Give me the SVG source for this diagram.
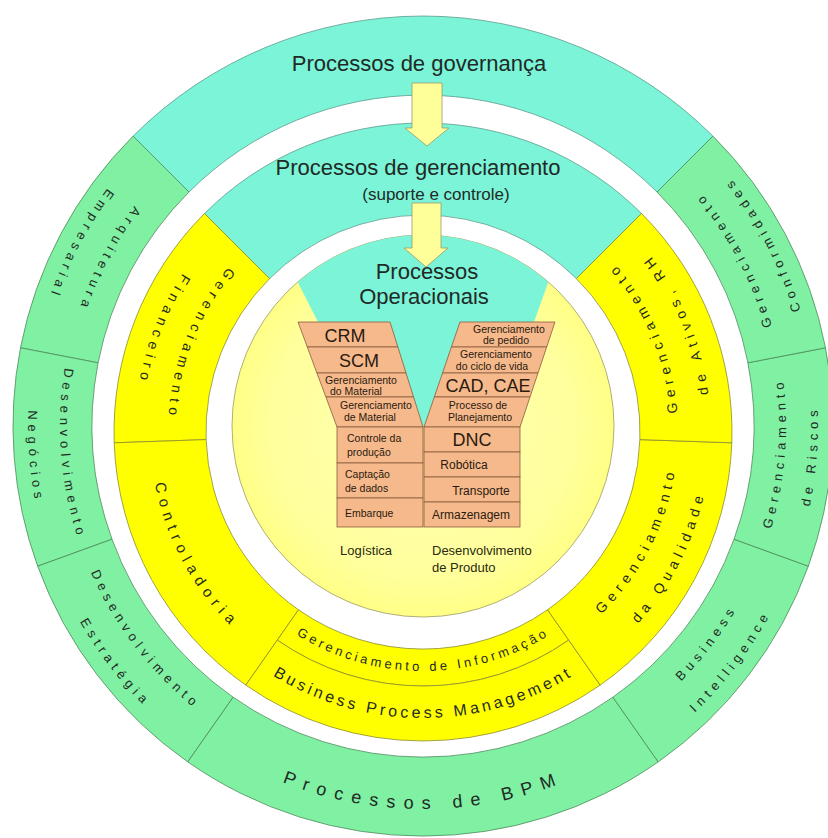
<svg xmlns="http://www.w3.org/2000/svg" width="828" height="838" viewBox="0 0 828 838">
<defs>
<style>
.teal{fill:#7CF4D8;stroke:#5a9c8c;stroke-width:0.8}
.green{fill:#80F0A2;stroke:#4c8a5c;stroke-width:0.8}
.yellow{fill:#FFFF00;stroke:#8c8c30;stroke-width:0.8}
.cell{fill:#F5B98B;stroke:#8a5c3c;stroke-width:0.8}
.arrow{fill:#FFFF99;stroke:#9a9a6a;stroke-width:0.8}
.t{font-family:"Liberation Sans",Arial,sans-serif;fill:#1f2a26}
.title{font-size:22px;text-anchor:middle}
.ro{font-size:13px;letter-spacing:5px;text-anchor:middle}
.rm{font-size:14px;letter-spacing:5.5px;text-anchor:middle}
.big{font-size:18px;text-anchor:middle;fill:#2a1a10}
.sm{font-size:10.5px;text-anchor:middle;fill:#2a1a10}
.sml{font-size:10.5px;fill:#2a1a10}
.md{font-size:12px;text-anchor:middle;fill:#2a1a10}
.lab{font-size:13px;fill:#2a2a10}
</style>
<radialGradient id="innerFill" cx="0.5" cy="0.5" r="0.5">
<stop offset="0" stop-color="#FFFFB4"/>
<stop offset="0.8" stop-color="#FFFF9C"/>
<stop offset="1" stop-color="#FFFF86"/>
</radialGradient>
<path id="o1" d="M423,63 A363,363 0 1 0 423,789 A363,363 0 1 0 423,63"/>
<path id="o2" d="M423,31 A395,395 0 1 0 423,821 A395,395 0 1 0 423,31"/>
<path id="ob" d="M423,43 A383,383 0 1 0 423,809 A383,383 0 1 0 423,43"/>
<path id="m1" d="M423,177 A255,255 0 1 0 423,687 A255,255 0 1 0 423,177"/>
<path id="m2" d="M423,144 A288,288 0 1 0 423,720 A288,288 0 1 0 423,144"/>
<path id="mc" d="M423,159 A273,273 0 1 0 423,705 A273,273 0 1 0 423,159"/>
<path id="mb" d="M423,146 A286,286 0 1 0 423,718 A286,286 0 1 0 423,146"/>
<path id="mi" d="M423,193 A239,239 0 1 0 423,671 A239,239 0 1 0 423,193"/>
</defs>
<rect width="828" height="838" fill="#FFFFFF"/>

<!-- Outer ring -->
<g id="governanca">
<path class="teal" d="M712.9,136.1 A410,410 0 0 0 133.1,136.1 L189.0,192.0 A331,331 0 0 1 657.0,192.0 Z"/>
<text class="t title" x="419" y="71">Processos de governança</text>
</g>
<g id="arquitetura">
<path class="green" d="M133.1,136.1 A410,410 0 0 0 20.5,347.8 L98.1,362.8 A331,331 0 0 1 189.0,192.0 Z"/>
<text class="t ro"><textPath href="#o1" startOffset="392.8">Arquitetura</textPath></text>
<text class="t ro"><textPath href="#o2" startOffset="427.4">Empresarial</textPath></text>
</g>
<g id="desenv-negocios">
<path class="green" d="M20.5,347.8 A410,410 0 0 0 37.7,566.2 L112.0,539.2 A331,331 0 0 1 98.1,362.8 Z"/>
<text class="t ro"><textPath href="#o1" startOffset="598.7">Desenvolvimento</textPath></text>
<text class="t ro"><textPath href="#o2" startOffset="651.5">Negócios</textPath></text>
</g>
<g id="desenv-estrategia">
<path class="green" d="M37.7,566.2 A410,410 0 0 0 187.8,761.9 L233.1,697.2 A331,331 0 0 1 112.0,539.2 Z"/>
<text class="t ro"><textPath href="#o1" startOffset="807.8">Desenvolvimento</textPath></text>
<text class="t ro"><textPath href="#o2" startOffset="879.0">Estratégia</textPath></text>
</g>
<g id="processos-bpm">
<path class="green" d="M187.8,761.9 A410,410 0 0 0 658.2,761.9 L612.9,697.2 A331,331 0 0 1 233.1,697.2 Z"/>
<text class="t" style="font-size:18px;letter-spacing:8.5px;text-anchor:middle"><textPath href="#ob" startOffset="1203.2">Processos de BPM</textPath></text>
</g>
<g id="business-intelligence">
<path class="green" d="M658.2,761.9 A410,410 0 0 0 808.3,566.2 L734.0,539.2 A331,331 0 0 1 612.9,697.2 Z"/>
<text class="t ro"><textPath href="#o1" startOffset="1473.0">Business</textPath></text>
<text class="t ro"><textPath href="#o2" startOffset="1602.9">Intelligence</textPath></text>
</g>
<g id="riscos">
<path class="green" d="M808.3,566.2 A410,410 0 0 0 825.5,347.8 L747.9,362.8 A331,331 0 0 1 734.0,539.2 Z"/>
<text class="t ro"><textPath href="#o1" startOffset="1682.1">Gerenciamento</textPath></text>
<text class="t ro"><textPath href="#o2" startOffset="1830.4">de Riscos</textPath></text>
</g>
<g id="conformidades">
<path class="green" d="M825.5,347.8 A410,410 0 0 0 712.9,136.1 L657.0,192.0 A331,331 0 0 1 747.9,362.8 Z"/>
<text class="t ro"><textPath href="#o1" startOffset="1888.0">Gerenciamento</textPath></text>
<text class="t ro"><textPath href="#o2" startOffset="2054.4">Conformidades</textPath></text>
</g>

<!-- Middle ring -->
<g id="gerenciamento">
<path class="teal" d="M641.5,213.5 A309,309 0 0 0 204.5,213.5 L269.6,278.6 A217,217 0 0 1 576.4,278.6 Z"/>
<text class="t title" x="418" y="175">Processos de gerenciamento</text>
<text class="t" x="436" y="200" style="font-size:17px;text-anchor:middle">(suporte e controle)</text>
</g>
<g id="financeiro">
<path class="yellow" d="M204.5,213.5 A309,309 0 0 0 114.2,442.8 L206.1,439.6 A217,217 0 0 1 269.6,278.6 Z"/>
<text class="t rm"><textPath href="#m1" startOffset="304.9">Gerenciamento</textPath></text>
<text class="t rm"><textPath href="#m2" startOffset="344.3">Financeiro</textPath></text>
</g>
<g id="controladoria">
<path class="yellow" d="M114.2,442.8 A309,309 0 0 0 245.8,685.1 L298.5,609.8 A217,217 0 0 1 206.1,439.6 Z"/>
<text class="t" style="font-size:15px;letter-spacing:6px;text-anchor:middle"><textPath href="#mc" startOffset="564.6">Controladoria</textPath></text>
</g>
<g id="informacao">
<path class="yellow" d="M298.5,609.8 A217,217 0 0 0 547.5,609.8 L568.7,640.1 A254,254 0 0 1 277.3,640.1 Z"/>
<text class="t" style="font-size:13px;letter-spacing:3.4px;text-anchor:middle"><textPath href="#mi" startOffset="750.8">Gerenciamento de Informação</textPath></text>
</g>
<g id="bpm">
<path class="yellow" d="M277.3,640.1 A254,254 0 0 0 568.7,640.1 L600.2,685.1 A309,309 0 0 1 245.8,685.1 Z"/>
<text class="t" style="font-size:16px;letter-spacing:3.4px;text-anchor:middle"><textPath href="#mb" startOffset="898.5">Business Process Management</textPath></text>
</g>
<g id="qualidade">
<path class="yellow" d="M600.2,685.1 A309,309 0 0 0 731.8,442.8 L639.9,439.6 A217,217 0 0 1 547.5,609.8 Z"/>
<text class="t rm"><textPath href="#m1" startOffset="1081.5">Gerenciamento</textPath></text>
<text class="t rm"><textPath href="#m2" startOffset="1221.5">da Qualidade</textPath></text>
</g>
<g id="ativos">
<path class="yellow" d="M731.8,442.8 A309,309 0 0 0 641.5,213.5 L576.4,278.6 A217,217 0 0 1 639.9,439.6 Z"/>
<text class="t rm"><textPath href="#m1" startOffset="1304.0">Gerenciamento</textPath></text>
<text class="t rm"><textPath href="#m2" startOffset="1472.8">de Ativos, RH</textPath></text>
</g>

<!-- Inner circle -->
<g id="nucleo">
<circle cx="423" cy="426" r="191" fill="url(#innerFill)" stroke="#9a9a66" stroke-width="0.8"/>
</g>
<g id="operacionais">
<path fill="#7CF4D8" d="M297.7,281.9 A191,191 0 0 1 548.3,281.9 L534,322 L515,360 L424,427 L335,360 L318,322 Z"/>
<text class="t title" x="427" y="279">Processos</text>
<text class="t title" x="424" y="304">Operacionais</text>
</g>

<!-- Left arm cells -->
<g id="crm"><polygon class="cell" points="298,322 390,322 397.9,347 307.3,347"/><text class="t big" x="345" y="342">CRM</text></g>
<g id="scm"><polygon class="cell" points="307.3,347 397.9,347 406,373 316.9,373"/><text class="t big" x="359" y="367">SCM</text></g>
<g id="ger-material-1"><polygon class="cell" points="316.9,373 406,373 413.6,397 325.9,397"/><text class="t sm" x="361" y="383.5">Gerenciamento</text><text class="t sm" x="356" y="394.5">do Material</text></g>
<g id="ger-material-2"><polygon class="cell" points="325.9,397 413.6,397 423,427 337,427"/><text class="t sm" x="376" y="409">Gerenciamento</text><text class="t sm" x="370" y="421">de Material</text></g>
<g id="controle-producao"><rect class="cell" x="337" y="427" width="86" height="36"/><text class="t sml" x="347" y="442">Controle da</text><text class="t sml" x="347" y="456">produção</text></g>
<g id="captacao-dados"><rect class="cell" x="337" y="463" width="86" height="35"/><text class="t sml" x="345" y="478">Captação</text><text class="t sml" x="345" y="492">de dados</text></g>
<g id="embarque"><rect class="cell" x="337" y="498" width="86" height="29"/><text class="t sml" x="345" y="517">Embarque</text></g>

<!-- Right arm cells -->
<g id="ger-pedido"><polygon class="cell" points="460,322 555,322 546.7,347 451.4,347"/><text class="t sm" x="509" y="333">Gerenciamento</text><text class="t sm" x="506" y="344">de pedido</text></g>
<g id="ger-ciclo"><polygon class="cell" points="451.4,347 546.7,347 538,373 442.5,373"/><text class="t sm" x="496" y="358">Gerenciamento</text><text class="t sm" x="492" y="369.5">do ciclo de vida</text></g>
<g id="cad-cae"><polygon class="cell" points="442.5,373 538,373 530,397 434.3,397"/><text class="t big" x="488" y="392">CAD, CAE</text></g>
<g id="planejamento"><polygon class="cell" points="434.3,397 530,397 520,427 424,427"/><text class="t sm" x="478" y="409">Processo de</text><text class="t sm" x="480" y="421">Planejamento</text></g>
<g id="dnc"><rect class="cell" x="424" y="427" width="96" height="25"/><text class="t big" x="472" y="446">DNC</text></g>
<g id="robotica"><rect class="cell" x="424" y="452" width="96" height="25"/><text class="t md" x="464" y="469">Robótica</text></g>
<g id="transporte"><rect class="cell" x="424" y="477" width="96" height="25"/><text class="t md" x="481" y="495">Transporte</text></g>
<g id="armazenagem"><rect class="cell" x="424" y="502" width="96" height="25"/><text class="t md" x="471" y="519">Armazenagem</text></g>

<g id="logistica"><text class="t lab" x="340" y="555">Logística</text></g>
<g id="desenv-produto"><text class="t lab" x="432" y="555">Desenvolvimento</text><text class="t lab" x="432" y="572">de Produto</text></g>

<!-- Connectors -->
<g id="connectors">
<path class="arrow" d="M412,83 H442 V128 H449 L427,146 L405,128 H412 Z"/>
<path class="arrow" d="M412,203 H441 V248 H448 L426,267 L404,248 H412 Z"/>
</g>
</svg>
